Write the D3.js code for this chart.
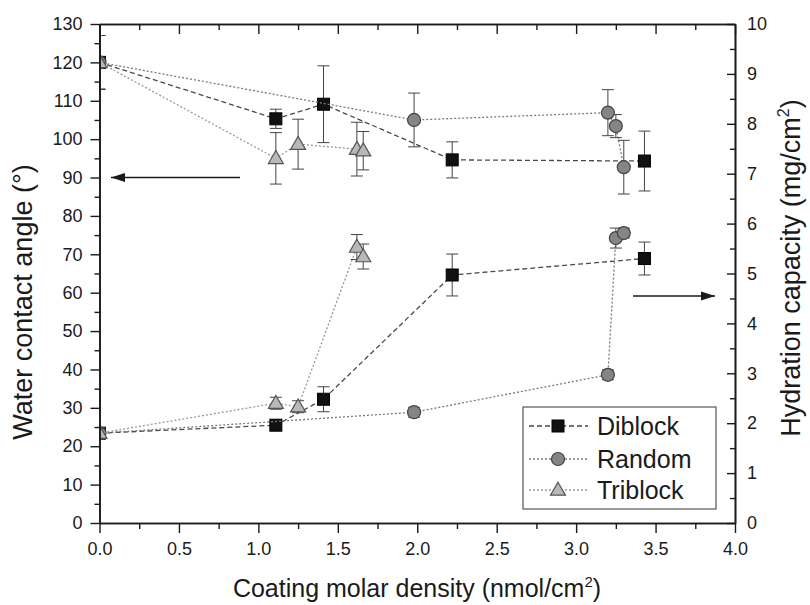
<!DOCTYPE html>
<html><head><meta charset="utf-8">
<script src="https://cdn.jsdelivr.net/npm/d3@7"></script>
<style>body{margin:0;background:#fff}text{font-family:"Liberation Sans",Arial,sans-serif;fill:#1a1a1a}</style>
</head><body>
<svg id="c" width="810" height="605"></svg>
<script>
// ---- data ----
const seriesNames = ["Diblock", "Random", "Triblock"];
const diblockX = [0, 1.11, 1.41, 2.22, 3.43];
const diblockAngle = [120, 105.3, 109.1, 94.6, 94.3];
const diblockAngleErr = [7, 2.5, 10, 4.7, 7.8];
const diblockHyd = [1.8, 1.96, 2.48, 4.97, 5.3];
const diblockHydErr = [0.1, 0.05, 0.25, 0.42, 0.33];

const randomX = [0, 1.98, 3.20, 3.25, 3.30];
const randomAngle = [120, 105, 106.9, 103.4, 92.7];
const randomAngleErr = [7, 7, 6, 3, 7];
const randomHyd = [1.8, 2.22, 2.97, 5.71, 5.81];
const randomHydErr = [0.1, 0.1, 0.1, 0.2, 0.1];

const triblockX = [0, 1.11, 1.25, 1.62, 1.66];
const triblockAngle = [120, 95, 98.7, 97.4, 97];
const triblockAngleErr = [7, 6.7, 6.5, 7, 5];
const triblockHyd = [1.8, 2.4, 2.33, 5.53, 5.34];
const triblockHydErr = [0.1, 0.12, 0.12, 0.25, 0.25];

const xTicks = [0, 0.5, 1, 1.5, 2, 2.5, 3, 3.5, 4];
const yLeftTicks = d3.range(0, 131, 10);
const yRightTicks = d3.range(0, 11, 1);

// ---- layout ----
const svg = d3.select("#c");
const L = 99.5, R = 735, T = 24, B = 523;
const x = d3.scaleLinear([0, 4], [L, R]);
const yL = d3.scaleLinear([0, 130], [B, T]);
const yR = d3.scaleLinear([0, 10], [B, T]);

svg.append("rect").attr("width", 810).attr("height", 605).attr("fill", "#fff");
svg.append("defs").append("clipPath").attr("id", "clip")
  .append("rect").attr("x", L).attr("y", T).attr("width", R - L).attr("height", B - T);

const styles = {
  Diblock: {line: "#4a4a4a", dash: "5,3", fill: "#111", stroke: "#000", shape: "square"},
  Random: {line: "#7a7a7a", dash: "2,2", fill: "#858585", stroke: "#444", shape: "circle"},
  Triblock: {line: "#9a9a9a", dash: "2,2", fill: "#b8b8b8", stroke: "#555", shape: "triangle"}
};

function marker(g, shape, cx, cy, st, scale = 1) {
  if (shape === "square") {
    const s = 12 * scale;
    g.append("rect").attr("x", cx - s / 2).attr("y", cy - s / 2).attr("width", s).attr("height", s)
      .attr("fill", st.fill).attr("stroke", st.stroke).attr("stroke-width", 1);
  } else if (shape === "circle") {
    g.append("circle").attr("cx", cx).attr("cy", cy).attr("r", 6.5 * scale)
      .attr("fill", st.fill).attr("stroke", st.stroke).attr("stroke-width", 1.2);
  } else {
    const h = 13 * scale, w = 15 * scale;
    g.append("path").attr("d", `M${cx},${cy - h * 0.6}L${cx + w / 2},${cy + h * 0.4}L${cx - w / 2},${cy + h * 0.4}Z`)
      .attr("fill", st.fill).attr("stroke", st.stroke).attr("stroke-width", 1.2);
  }
}

const plot = svg.append("g").attr("clip-path", "url(#clip)");

const series = [
  {name: "Diblock", xs: diblockX, a: diblockAngle, ae: diblockAngleErr, h: diblockHyd, he: diblockHydErr},
  {name: "Random", xs: randomX, a: randomAngle, ae: randomAngleErr, h: randomHyd, he: randomHydErr},
  {name: "Triblock", xs: triblockX, a: triblockAngle, ae: triblockAngleErr, h: triblockHyd, he: triblockHydErr}
];

series.forEach(s => {
  const st = styles[s.name];
  const g = plot.append("g");
  const sets = [
    {ys: s.a, es: s.ae, sc: yL},
    {ys: s.h, es: s.he, sc: yR}
  ];
  sets.forEach(set => {
    const pts = s.xs.map((xv, i) => [x(xv), set.sc(set.ys[i])]);
    g.append("path").attr("d", d3.line()(pts)).attr("fill", "none")
      .attr("stroke", st.line).attr("stroke-width", 1.3).attr("stroke-dasharray", st.dash);
  });
  sets.forEach(set => {
    s.xs.forEach((xv, i) => {
      const cx = x(xv), y1 = set.sc(set.ys[i] + set.es[i]), y2 = set.sc(set.ys[i] - set.es[i]);
      g.append("path").attr("d", `M${cx},${y1}V${y2}M${cx - 6},${y1}H${cx + 6}M${cx - 6},${y2}H${cx + 6}`)
        .attr("stroke", "#444").attr("stroke-width", 1).attr("fill", "none");
    });
    s.xs.forEach((xv, i) => marker(g, st.shape, x(xv), set.sc(set.ys[i]), st));
  });
});

// ---- axes ----
const axisStyle = g => {
  g.selectAll(".domain").attr("stroke", "#1a1a1a").attr("stroke-width", 1.6);
  g.selectAll(".tick line").attr("stroke", "#1a1a1a").attr("stroke-width", 1.4);
  g.selectAll("text").attr("font-size", 18).attr("fill", "#1a1a1a").attr("font-family", '"Liberation Sans",Arial,sans-serif');
};
const minorX = d3.range(0.25, 4, 0.5);
const minorL = d3.range(5, 130, 10);
const minorR = d3.range(0.5, 10, 1);

svg.append("g").attr("transform", `translate(0,${B})`)
  .call(d3.axisBottom(x).tickValues(xTicks).tickFormat(d3.format(".1f")).tickSize(10).tickSizeOuter(0).tickPadding(9)).call(axisStyle);
svg.append("g").attr("transform", `translate(0,${B})`)
  .call(d3.axisBottom(x).tickValues(minorX).tickFormat("").tickSize(6).tickSizeOuter(0)).call(axisStyle);
svg.append("g").attr("transform", `translate(0,${T})`)
  .call(d3.axisTop(x).tickValues(xTicks).tickFormat("").tickSize(-10).tickSizeOuter(0)).call(axisStyle);
svg.append("g").attr("transform", `translate(0,${T})`)
  .call(d3.axisTop(x).tickValues(minorX).tickFormat("").tickSize(-6).tickSizeOuter(0)).call(axisStyle);
svg.append("g").attr("transform", `translate(${L},0)`)
  .call(d3.axisLeft(yL).tickValues(yLeftTicks).tickSize(9).tickSizeOuter(0).tickPadding(8)).call(axisStyle);
svg.append("g").attr("transform", `translate(${L},0)`)
  .call(d3.axisLeft(yL).tickValues(minorL).tickFormat("").tickSize(5).tickSizeOuter(0)).call(axisStyle);
svg.append("g").attr("transform", `translate(${R},0)`)
  .call(d3.axisRight(yR).tickValues(yRightTicks).tickSize(-8).tickSizeOuter(0).tickPadding(12)).call(axisStyle);
svg.append("g").attr("transform", `translate(${R},0)`)
  .call(d3.axisRight(yR).tickValues(minorR).tickFormat("").tickSize(-5).tickSizeOuter(0)).call(axisStyle);

// ---- titles ----
const xt = svg.append("text").attr("x", 417).attr("y", 597).attr("text-anchor", "middle").attr("font-size", 25);
xt.append("tspan").text("Coating molar density (nmol/cm");
xt.append("tspan").text("2").attr("font-size", 15).attr("dy", -10);
xt.append("tspan").text(")").attr("dy", 10);

svg.append("text").attr("transform", `translate(32,302) rotate(-90)`).attr("text-anchor", "middle")
  .attr("font-size", 27).text("Water contact angle (°)");

const yt = svg.append("text").attr("transform", `translate(800,268) rotate(-90)`).attr("text-anchor", "middle").attr("font-size", 27);
yt.append("tspan").text("Hydration capacity (mg/cm");
yt.append("tspan").text("2").attr("font-size", 16).attr("dy", -11);
yt.append("tspan").text(")").attr("dy", 11);

// ---- arrows ----
function arrow(x1, x2, yy) {
  svg.append("line").attr("x1", x1).attr("x2", x2).attr("y1", yy).attr("y2", yy)
    .attr("stroke", "#1a1a1a").attr("stroke-width", 1.6);
  const dir = x2 > x1 ? 1 : -1;
  svg.append("path").attr("d", `M${x2},${yy}L${x2 - dir * 14},${yy - 4.5}L${x2 - dir * 14},${yy + 4.5}Z`).attr("fill", "#1a1a1a");
}
arrow(240, 111, yL(90));
arrow(633, 715, yR(4.55));

// ---- legend ----
const lg = svg.append("g");
lg.append("rect").attr("x", 523).attr("y", 407).attr("width", 193).attr("height", 102)
  .attr("fill", "#fff").attr("stroke", "#555").attr("stroke-width", 1.2);
const legY = [426, 459, 490];
seriesNames.forEach((n, i) => {
  const st = styles[n];
  lg.append("line").attr("x1", 529).attr("x2", 588).attr("y1", legY[i]).attr("y2", legY[i])
    .attr("stroke", st.line).attr("stroke-width", 1.3).attr("stroke-dasharray", st.dash);
  marker(lg, st.shape, 558, legY[i], st);
  lg.append("text").attr("x", 597).attr("y", legY[i]).attr("dy", "0.36em").attr("font-size", 25).text(n);
});
</script>
</body></html>
